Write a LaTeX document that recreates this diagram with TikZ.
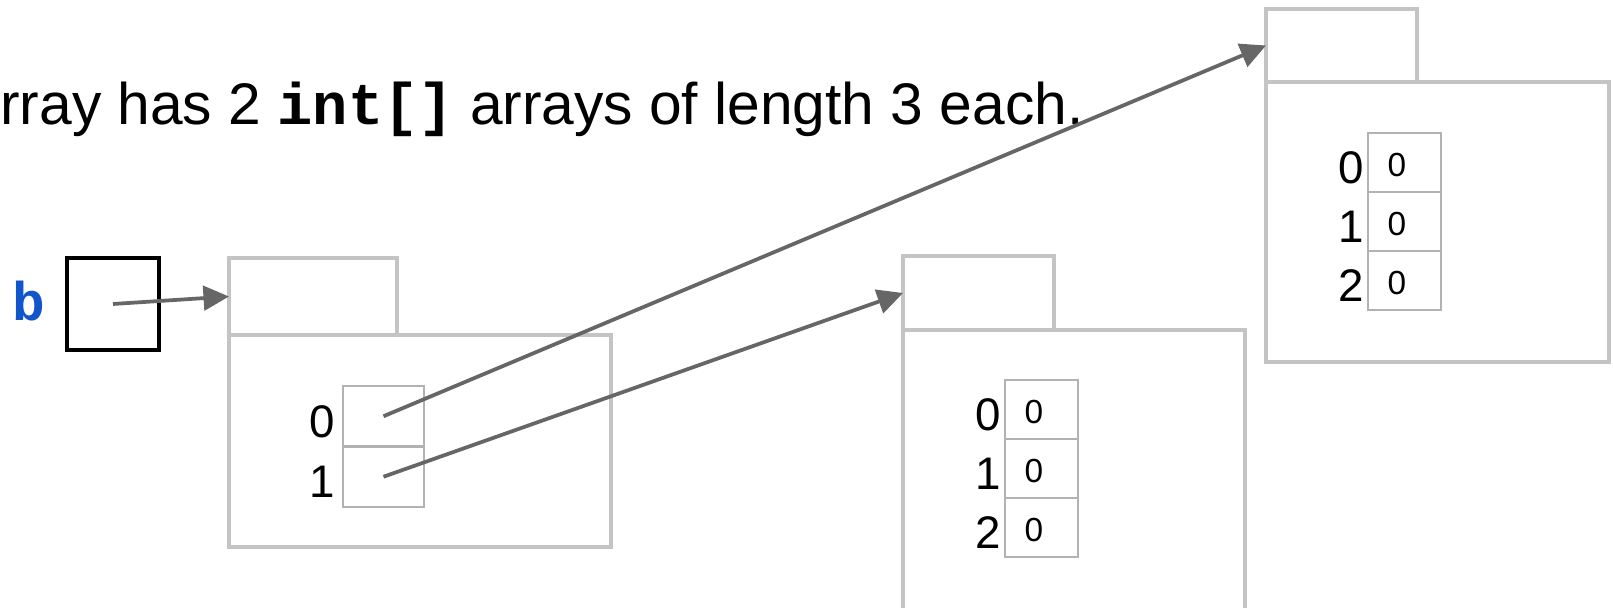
\documentclass[tikz,border=0pt]{standalone}
\usepackage{fontspec}
\setmainfont{Liberation Sans}
\setmonofont{Liberation Mono}
\usepackage{tikz}
\usetikzlibrary{arrows.meta, positioning}
\usepackage{xcolor}
\definecolor{boxgrey}{HTML}{C4C4C4}
\definecolor{cellgrey}{HTML}{B2B2B2}
\definecolor{refgrey}{HTML}{666666}
\definecolor{varblue}{HTML}{1155CC}
\tikzset{
  varbox/.style={rectangle, draw=black, line width=0.07cm, minimum width=1.84cm,
                 minimum height=1.84cm, inner sep=0, outer sep=0},
  objbody/.style={rectangle, draw=boxgrey, line width=0.07cm, inner sep=0, outer sep=0},
  objtab/.style={rectangle, draw=boxgrey, line width=0.07cm, inner sep=0, outer sep=0,
                 anchor=south west},
  slot/.style={rectangle, draw=cellgrey, line width=0.045cm, inner sep=0, outer sep=0},
  slotbig/.style={slot, minimum width=1.62cm, minimum height=1.21cm},
  slotsmall/.style={slot, minimum width=1.46cm, minimum height=1.18cm},
  idxlab/.style={font=\fontsize{26}{30}\selectfont, inner sep=0, anchor=east},
  vallab/.style={font=\fontsize{19}{22}\selectfont, inner sep=0},
  ref/.style={-{Triangle[length=0.51cm,width=0.49cm]}, line width=0.075cm, draw=refgrey},
}

\begin{document}
\begin{tikzpicture}[x=1cm, y=1cm]
  \clip (0,0) rectangle (32.26,12.16);

  % --- caption ---
  \node[anchor=base west, inner sep=0, font=\fontsize{33.4}{40}\selectfont] (caption) at (0,9.66)
    {rray has 2 \texttt{\textbf{int[]}} arrays of length 3 each.};

  % --- variable b ---
  \node[font=\fontsize{31}{36}\selectfont\ttfamily\bfseries, text=varblue, inner sep=0] (bname) at (0.57,6.14) {b};
  \node[varbox] (bvar) at (2.26,6.08) {};

  % --- outer int[][] object ---
  \node[objbody, minimum width=7.64cm, minimum height=4.24cm] (outer) at (8.40,3.34) {};
  \node[objtab, minimum width=3.36cm, minimum height=1.54cm] (outertab) at (outer.north west) {};
  \node[slotbig, anchor=north west, xshift=2.28cm, yshift=-1.02cm] (o0) at (outer.north west) {};
  \node[slotbig, below=0cm of o0] (o1) {};
  \node[idxlab, xshift=-0.16cm, yshift=-0.11cm] (oi0) at (o0.west) {0};
  \node[idxlab, xshift=-0.16cm, yshift=-0.11cm] (oi1) at (o1.west) {1};

  % --- inner array (row 1) ---
  \node[objbody, minimum width=6.84cm, minimum height=5.6cm] (rowb) at (21.48,2.76) {};
  \node[objtab, minimum width=3.02cm, minimum height=1.48cm] (rowbtab) at (rowb.north west) {};
  \node[slotsmall, anchor=north west, xshift=2.04cm, yshift=-1.0cm] (b0) at (rowb.north west) {};
  \node[slotsmall, below=0cm of b0] (b1) {};
  \node[slotsmall, below=0cm of b1] (b2) {};
  \node[idxlab, xshift=-0.08cm, yshift=-0.11cm] (bi0) at (b0.west) {0};
  \node[idxlab, xshift=-0.08cm, yshift=-0.11cm] (bi1) at (b1.west) {1};
  \node[idxlab, xshift=-0.08cm, yshift=-0.11cm] (bi2) at (b2.west) {2};
  \node[vallab, xshift=0.58cm, yshift=-0.05cm] (bv0) at (b0.west) {0};
  \node[vallab, xshift=0.58cm, yshift=-0.05cm] (bv1) at (b1.west) {0};
  \node[vallab, xshift=0.58cm, yshift=-0.05cm] (bv2) at (b2.west) {0};

  % --- inner array (row 0) ---
  \node[objbody, minimum width=6.86cm, minimum height=5.6cm] (rowa) at (28.75,7.72) {};
  \node[objtab, minimum width=3.02cm, minimum height=1.46cm] (rowatab) at (rowa.north west) {};
  \node[slotsmall, anchor=north west, xshift=2.04cm, yshift=-1.02cm] (a0) at (rowa.north west) {};
  \node[slotsmall, below=0cm of a0] (a1) {};
  \node[slotsmall, below=0cm of a1] (a2) {};
  \node[idxlab, xshift=-0.08cm, yshift=-0.11cm] (ai0) at (a0.west) {0};
  \node[idxlab, xshift=-0.08cm, yshift=-0.11cm] (ai1) at (a1.west) {1};
  \node[idxlab, xshift=-0.08cm, yshift=-0.11cm] (ai2) at (a2.west) {2};
  \node[vallab, xshift=0.58cm, yshift=-0.05cm] (av0) at (a0.west) {0};
  \node[vallab, xshift=0.58cm, yshift=-0.05cm] (av1) at (a1.west) {0};
  \node[vallab, xshift=0.58cm, yshift=-0.05cm] (av2) at (a2.west) {0};

  % --- references ---
  \draw[ref] (bvar.center) -- (outertab.west);
  \draw[ref] (o0.center) -- (rowatab.west);
  \draw[ref] (o1.center) -- (rowbtab.west);

\end{tikzpicture}
\end{document}
